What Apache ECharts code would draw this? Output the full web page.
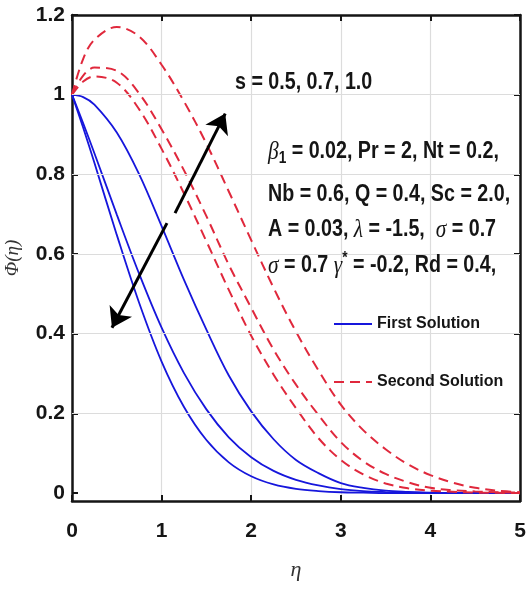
<!DOCTYPE html>
<html>
<head>
<meta charset="utf-8">
<script src="https://cdn.jsdelivr.net/npm/echarts@6/dist/echarts.min.js"></script>
<style>
  html, body { margin: 0; padding: 0; background: #ffffff; }
  #chart { width: 527px; height: 590px; }
</style>
</head>
<body>
<div id="chart"></div>
<script>
// Concentration profile Φ(η): first (solid) and second (dashed) solutions for s = 0.5, 0.7, 1.0

// tick values
const xTicks = [0, 1, 2, 3, 4, 5];
const yTicks = [0, 0.2, 0.4, 0.6, 0.8, 1, 1.2];

// η grid shared by every profile
const eta = [0, 0.125, 0.25, 0.5, 0.75, 1.0, 1.25, 1.5, 1.75, 2.0, 2.25, 2.5, 2.75, 3.0, 3.25, 3.5, 3.75, 4.0, 4.25, 4.5, 4.75, 5.0];

// first solution
const firstS05 = [1, 0.994, 0.975, 0.905, 0.80, 0.67, 0.535, 0.41, 0.295, 0.205, 0.135, 0.083, 0.05, 0.025, 0.013, 0.006, 0.003, 0.001, 0.0005, 0, 0, 0];
const firstS07 = [1, 0.928, 0.853, 0.699, 0.55, 0.415, 0.301, 0.21, 0.14, 0.09, 0.0555, 0.033, 0.019, 0.010, 0.005, 0.0025, 0.001, 0.0005, 0, 0, 0, 0];
const firstS10 = [1, 0.917, 0.829, 0.648, 0.477, 0.33, 0.216, 0.133, 0.077, 0.042, 0.0216, 0.0105, 0.005, 0.002, 0.001, 0, 0, 0, 0, 0, 0, 0];

// second solution
const secondS05 = [1, 1.033, 1.046, 1.03, 0.963, 0.864, 0.752, 0.632, 0.51, 0.395, 0.297, 0.213, 0.138, 0.083, 0.047, 0.024, 0.012, 0.006, 0.003, 0.001, 0.0005, 0];
const secondS07 = [1, 1.048, 1.068, 1.06, 1.003, 0.913, 0.81, 0.695, 0.573, 0.465, 0.36, 0.272, 0.196, 0.128, 0.08, 0.048, 0.027, 0.013, 0.007, 0.004, 0.002, 0.001];
const secondS10 = [1, 1.09, 1.138, 1.17, 1.146, 1.075, 0.983, 0.877, 0.757, 0.635, 0.515, 0.405, 0.308, 0.222, 0.158, 0.11, 0.072, 0.045, 0.026, 0.013, 0.006, 0.002];

// double arrow showing the direction of increasing s (data coordinates)
const arrowUp = [[1.15, 0.7025], [1.71, 0.9525]];
const arrowDown = [[1.06, 0.6775], [0.446, 0.415]];

const SANS = '"Liberation Sans", Arial, Helvetica, sans-serif';
const SERIF = '"Liberation Serif", "DejaVu Serif", serif';
const BLUE = '#1616dc';
const RED = '#e0283c';
const GRIDC = '#dcdcdc';
const INK = '#151515';
const NARROW = 0.855;   // horizontal squeeze for the annotation text

const pairs = (xs, ys) => xs.map((x, i) => [x, ys[i]]);

function firstSeries(values) {
  return {
    name: 'First Solution', type: 'line', z: 3,
    data: pairs(eta, values), showSymbol: false, symbol: 'none',
    smooth: 0.35,
    lineStyle: { color: BLUE, width: 1.8 }, itemStyle: { color: BLUE }
  };
}
function secondSeries(values) {
  return {
    name: 'Second Solution', type: 'line', z: 4,
    data: pairs(eta, values), showSymbol: false, symbol: 'none',
    smooth: 0.35,
    lineStyle: { color: RED, width: 2, type: [10, 6] }, itemStyle: { color: RED }
  };
}

const chart = echarts.init(document.getElementById('chart'), null, { renderer: 'canvas' });

const tickLabel = { fontFamily: SANS, fontWeight: 'bold', fontSize: 21, color: INK };
const textRich = {
  t: { fontFamily: SANS, fontWeight: 'bold', fontSize: 23, lineHeight: 30, fill: INK },
  g: { fontFamily: SERIF, fontStyle: 'italic', fontSize: 25, lineHeight: 30, fill: INK },
  sub: { fontFamily: SANS, fontWeight: 'bold', fontSize: 16, lineHeight: 16, verticalAlign: 'bottom', fill: INK },
  sup: { fontFamily: SANS, fontWeight: 'bold', fontSize: 16, lineHeight: 16, verticalAlign: 'top', fill: INK }
};
function note(x, y, text) {
  return {
    type: 'text', x: x, y: y, z: 10, scaleX: NARROW,
    style: { text: text, rich: textRich, verticalAlign: 'middle' }
  };
}

const option = {
  animation: false,
  backgroundColor: '#ffffff',
  grid: { left: 72, right: 7, top: 15, bottom: 89, containLabel: false, outerBoundsMode: 'none' },
  legend: {
    data: ['First Solution', 'Second Solution'],
    orient: 'vertical', left: 333, top: 316, itemGap: 42, padding: 0,
    itemWidth: 38, itemHeight: 14,
    itemStyle: { opacity: 0 },
    textStyle: { fontFamily: SANS, fontWeight: 'bold', fontSize: 16, color: INK }
  },
  xAxis: [{
    type: 'value', min: 0, max: 5, interval: 1,
    name: 'η', nameLocation: 'middle', nameGap: 58,
    nameTextStyle: { fontFamily: SERIF, fontStyle: 'italic', fontSize: 22, color: '#333' },
    axisLine: { show: true, onZero: false, lineStyle: { color: INK, width: 2.5 } },
    axisTick: { show: true, inside: true, length: 6, lineStyle: { color: INK, width: 2 } },
    axisLabel: Object.assign({ margin: 20 }, tickLabel),
    splitLine: { show: true, lineStyle: { color: GRIDC, width: 1.2 } }
  }, {
    type: 'value', min: 0, max: 5, interval: 1, position: 'top',
    axisLine: { show: true, onZero: false, lineStyle: { color: INK, width: 2.5 } },
    axisTick: { show: true, inside: true, length: 6, lineStyle: { color: INK, width: 2 } },
    axisLabel: { show: false }, splitLine: { show: false }
  }],
  yAxis: [{
    type: 'value', min: -0.02, max: 1.2,
    name: 'Φ(η)', nameLocation: 'middle', nameGap: 50,
    nameTextStyle: { fontFamily: SERIF, fontStyle: 'italic', fontSize: 19, color: '#333' },
    axisLine: { show: true, onZero: false, lineStyle: { color: INK, width: 2.5 } },
    axisTick: { show: true, inside: true, length: 6, customValues: yTicks, lineStyle: { color: INK, width: 2 } },
    axisLabel: Object.assign({
      margin: 7, customValues: yTicks,
      formatter: v => String(Math.round(v * 10) / 10)
    }, tickLabel),
    splitLine: { show: false }
  }, {
    type: 'value', min: -0.02, max: 1.2, position: 'right',
    axisLine: { show: true, onZero: false, lineStyle: { color: INK, width: 2.5 } },
    axisTick: { show: true, inside: true, length: 6, customValues: yTicks, lineStyle: { color: INK, width: 2 } },
    axisLabel: { show: false }, splitLine: { show: false }
  }],
  series: [
    {
      // horizontal grid lines at the labelled φ values
      name: 'grid', type: 'line', data: [], z: 1, silent: true,
      markLine: {
        silent: true, symbol: 'none', label: { show: false },
        lineStyle: { color: GRIDC, width: 1.2, type: 'solid' },
        data: yTicks.slice(1, -1).map(v => ({ yAxis: v }))
      }
    },
    firstSeries(firstS05),
    firstSeries(firstS07),
    firstSeries(firstS10),
    secondSeries(secondS05),
    secondSeries(secondS07),
    secondSeries(secondS10),
    {
      name: 'arrows', type: 'line', data: [], z: 6, silent: true,
      markLine: {
        silent: true, symbol: ['none', 'arrow'], symbolSize: 19,
        label: { show: false },
        lineStyle: { color: '#000000', width: 3, type: 'solid' },
        data: [
          [{ coord: arrowUp[0] }, { coord: arrowUp[1] }],
          [{ coord: arrowDown[0] }, { coord: arrowDown[1] }]
        ]
      }
    }
  ],
  graphic: [
    note(235, 83, '{t|s = 0.5, 0.7, 1.0}'),
    note(268, 152, '{g|β}{sub|1}{t| = 0.02, Pr = 2, Nt = 0.2,}'),
    note(268, 195, '{t|Nb = 0.6, Q = 0.4, Sc = 2.0,}'),
    note(268, 230, '{t|A = 0.03, }{g|λ}{t| = -1.5,  }{g|σ}{t| = 0.7}'),
    note(268, 266, '{g|σ}{t| = 0.7 }{g|γ}{sup|*}{t| = -0.2, Rd = 0.4,}')
  ]
};

chart.setOption(option);
</script>
</body>
</html>
